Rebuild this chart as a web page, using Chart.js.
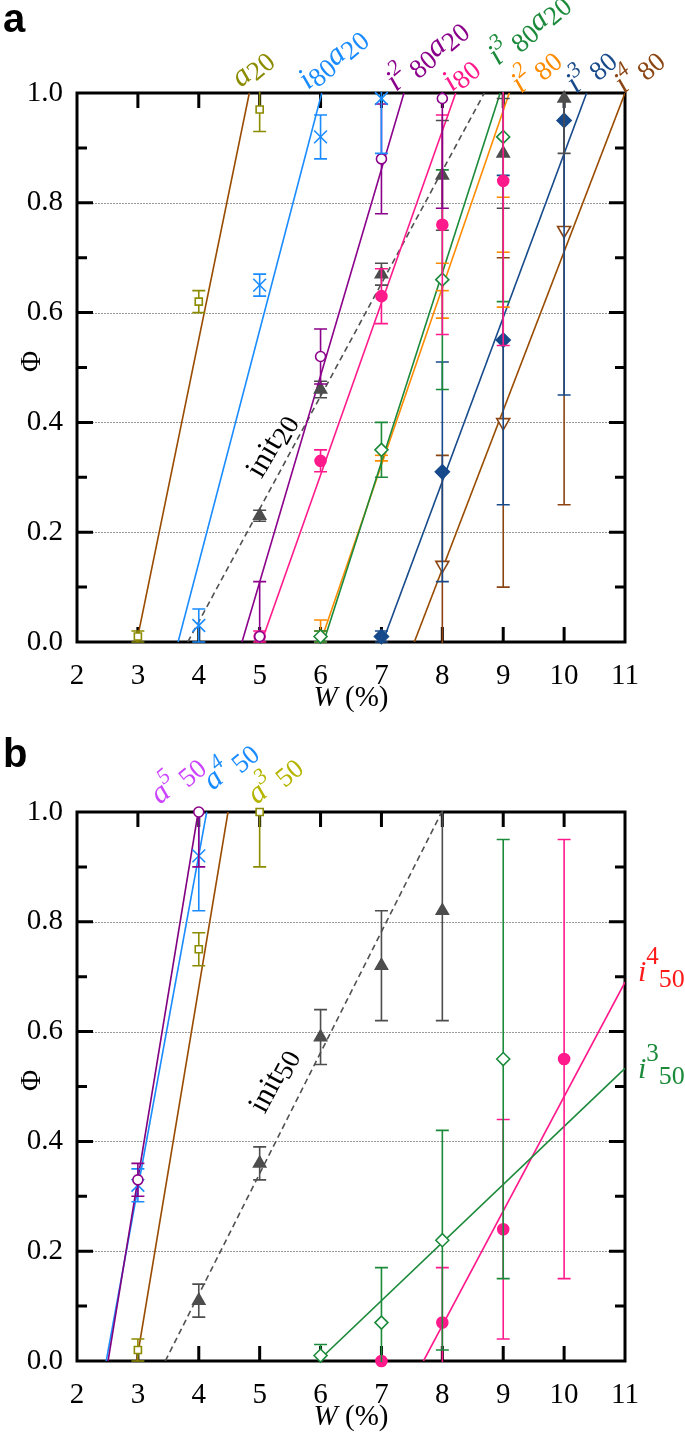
<!DOCTYPE html>
<html>
<head>
<meta charset="utf-8">
<script src="https://cdn.jsdelivr.net/npm/chart.js@4.4.0/dist/chart.umd.min.js"></script>
<style>
  html, body { margin: 0; padding: 0; background: #fff; }
  .panel { position: absolute; left: 0; }
</style>
</head>
<body>
<div class="panel" style="top:0"><canvas id="chartA" width="685" height="725"></canvas></div>
<div class="panel" style="top:725px"><canvas id="chartB" width="685" height="726"></canvas></div>
<script>
  /* ==========================
     DATA  (W in %, Phi, +/- error, fit line end points)
  ========================== */
  const wTicks = [2, 3, 4, 5, 6, 7, 8, 9, 10, 11];
  const phiTicks = [0, 0.2, 0.4, 0.6, 0.8, 1.0];

  // panel a
  const a20W = [3, 4, 5];
  const a20Phi = [0.01, 0.62, 0.97];
  const a20Err = [0.01, 0.02, 0.04];
  const a20Fit = [[2.98, 0], [4.83, 1]];

  const i80a20W = [4, 5, 6, 7];
  const i80a20Phi = [0.03, 0.65, 0.92, 0.99];
  const i80a20Err = [0.03, 0.02, 0.04, 0.10];
  const i80a20Fit = [[3.66, 0], [6.02, 1]];

  const i2_80a20W = [5, 6, 7, 8];
  const i2_80a20Phi = [0.01, 0.52, 0.88, 0.99];
  const i2_80a20Err = [0.10, 0.05, 0.10, 0.20];
  const i2_80a20Fit = [[4.71, 0], [7.37, 1]];

  const i80W = [5, 6, 7, 8, 9];
  const i80Phi = [0.01, 0.33, 0.63, 0.76, 0.84];
  const i80Err = [0.01, 0.02, 0.05, 0.20, 0.30];
  const i80Fit = [[5.03, 0], [8.22, 1]];

  const init20W = [5, 6, 7, 8, 9, 10];
  const init20Phi = [0.23, 0.46, 0.67, 0.85, 0.89, 0.99];
  const init20Err = [0.01, 0.015, 0.02, 0.10, 0.10, 0.10];
  const init20Fit = [[3.82, 0], [8.69, 1]];

  const i3_80a20W = [6, 7, 8, 9];
  const i3_80a20Phi = [0.01, 0.35, 0.66, 0.92];
  const i3_80a20Err = [0.01, 0.05, 0.20, 0.30];
  const i3_80a20Fit = [[6.05, 0], [8.95, 1]];

  const i2_80W = [6, 7, 8, 9];
  const i2_80Phi = [0.02, 0.34, 0.64, 0.71];
  const i2_80Err = [0.02, 0.01, 0.05, 0.10];
  const i2_80Fit = [[6.0, 0], [9.1, 1]];

  const i3_80W = [7, 8, 9, 10];
  const i3_80Phi = [0.01, 0.31, 0.55, 0.95];
  const i3_80Err = [0.01, 0.20, 0.30, 0.50];
  const i3_80Fit = [[7.02, 0], [10.37, 1]];

  const i4_80W = [8, 9, 10];
  const i4_80Phi = [0.14, 0.40, 0.75];
  const i4_80Err = [0.20, 0.30, 0.50];
  const i4_80Fit = [[7.54, 0], [11, 1]];

  // panel b
  const a5_50W = [3, 4];
  const a5_50Phi = [0.33, 1.0];
  const a5_50Err = [0.03, 0.10];
  const a5_50Fit = [[2.51, 0], [3.99, 1]];

  const a4_50W = [3, 4];
  const a4_50Phi = [0.32, 0.92];
  const a4_50Err = [0.03, 0.10];
  const a4_50Fit = [[2.48, 0], [4.13, 1]];

  const a3_50W = [3, 4, 5];
  const a3_50Phi = [0.02, 0.75, 1.0];
  const a3_50Err = [0.02, 0.03, 0.10];
  const a3_50Fit = [[2.98, 0], [4.48, 1]];

  const init50W = [4, 5, 6, 7, 8];
  const init50Phi = [0.11, 0.36, 0.59, 0.72, 0.82];
  const init50Err = [0.03, 0.03, 0.05, 0.10, 0.20];
  const init50Fit = [[3.45, 0], [7.99, 1]];

  const i3_50W = [6, 7, 8, 9];
  const i3_50Phi = [0.01, 0.07, 0.22, 0.55];
  const i3_50Err = [0.02, 0.10, 0.20, 0.40];
  const i3_50Fit = [[5.96, 0], [11, 0.533]];

  const i4_50W = [7, 8, 9, 10];
  const i4_50Phi = [0.0, 0.07, 0.24, 0.55];
  const i4_50Err = [0, 0.10, 0.20, 0.40];
  const i4_50Fit = [[7.69, 0], [11, 0.69]];

  /* ==========================
     STYLES
  ========================== */
  const OLIVE = "#8c8c00", BROWN = "#994c00", BLUE = "#1a8cff", PURPLE = "#8b008b",
        PINK = "#ff1a8c", GRAY = "#4d4d4d", GREEN = "#1b8a3a", ORANGE = "#ff8c00",
        NAVY = "#174a8b", TRI_BROWN = "#8b4513";

  const seriesA = [
    { W: a20W, phi: a20Phi, err: a20Err, fit: a20Fit, color: OLIVE, line: BROWN, style: "rect", r: 5, open: true },
    { W: i80a20W, phi: i80a20Phi, err: i80a20Err, fit: i80a20Fit, color: BLUE, line: BLUE, style: "crossRot", r: 9 },
    { W: i2_80a20W, phi: i2_80a20Phi, err: i2_80a20Err, fit: i2_80a20Fit, color: PURPLE, line: PURPLE, style: "circle", r: 5, open: true },
    { W: i80W, phi: i80Phi, err: i80Err, fit: i80Fit, color: PINK, line: PINK, style: "circle", r: 5.5 },
    { W: init20W, phi: init20Phi, err: init20Err, fit: init20Fit, color: GRAY, line: "#505050", style: "triangle", r: 7, dash: [6, 4] },
    { W: i3_80a20W, phi: i3_80a20Phi, err: i3_80a20Err, fit: i3_80a20Fit, color: GREEN, line: GREEN, style: "rectRot", r: 6.5, open: true },
    { W: i2_80W, phi: i2_80Phi, err: i2_80Err, fit: i2_80Fit, color: ORANGE, line: ORANGE, style: "line", r: 6.5 },
    { W: i3_80W, phi: i3_80Phi, err: i3_80Err, fit: i3_80Fit, color: NAVY, line: NAVY, style: "rectRot", r: 7 },
    { W: i4_80W, phi: i4_80Phi, err: i4_80Err, fit: i4_80Fit, color: TRI_BROWN, line: BROWN, style: "triangle", r: 7.5, open: true, rot: 180 },
  ];

  const seriesB = [
    { W: a5_50W, phi: a5_50Phi, err: a5_50Err, fit: a5_50Fit, color: PURPLE, line: "#800080", style: "circle", r: 5, open: true },
    { W: a4_50W, phi: a4_50Phi, err: a4_50Err, fit: a4_50Fit, color: BLUE, line: BLUE, style: "crossRot", r: 9 },
    { W: a3_50W, phi: a3_50Phi, err: a3_50Err, fit: a3_50Fit, color: OLIVE, line: BROWN, style: "rect", r: 5, open: true },
    { W: init50W, phi: init50Phi, err: init50Err, fit: init50Fit, color: GRAY, line: "#505050", style: "triangle", r: 7, dash: [6, 4] },
    { W: i3_50W, phi: i3_50Phi, err: i3_50Err, fit: i3_50Fit, color: GREEN, line: GREEN, style: "rectRot", r: 6.5, open: true },
    { W: i4_50W, phi: i4_50Phi, err: i4_50Err, fit: i4_50Fit, color: PINK, line: PINK, style: "circle", r: 5.5 },
  ];

  // rich label pieces
  const IT = (t) => ({ t, it: true, size: 31 });
  const UP = (t) => ({ t, size: 31 });
  const SUP = (t) => ({ t, it: true, size: 22, dy: -13 });
  const SUB = (t) => ({ t, size: 27, dy: 5 });
  const GAP = { t: "\u2009", size: 27 };

  const labelsA = [
    { x: 241, y: 88, deg: -40, color: OLIVE, parts: [IT("a"), SUB("20")] },
    { x: 308, y: 90, deg: -40, color: BLUE, parts: [IT("i"), SUB("80"), IT("a"), SUB("20")] },
    { x: 396, y: 92, deg: -40, color: PURPLE, parts: [IT("i"), SUP("2"), GAP, SUB("80"), IT("a"), SUB("20")] },
    { x: 452, y: 92, deg: -40, color: PINK, parts: [IT("i"), SUB("80")] },
    { x: 498, y: 66, deg: -40, color: GREEN, parts: [IT("i"), SUP("3"), GAP, SUB("80"), IT("a"), SUB("20")] },
    { x: 521, y: 94, deg: -40, color: ORANGE, parts: [IT("i"), SUP("2"), GAP, SUB("80")] },
    { x: 576, y: 94, deg: -40, color: NAVY, parts: [IT("i"), SUP("3"), GAP, SUB("80")] },
    { x: 624, y: 94, deg: -40, color: TRI_BROWN, parts: [IT("i"), SUP("4"), GAP, SUB("80")] },
    { x: 270, y: 445, deg: -60, color: "#000", center: true, parts: [UP("init"), SUB("20")] },
  ];

  const labelsB = [
    { x: 160, y: 80, deg: -40, color: "#cc44ff", parts: [IT("a"), SUP("5"), GAP, SUB("50")] },
    { x: 213, y: 66, deg: -40, color: BLUE, parts: [IT("a"), SUP("4"), GAP, SUB("50")] },
    { x: 257, y: 80, deg: -40, color: "#b5b500", parts: [IT("a"), SUP("3"), GAP, SUB("50")] },
    { x: 272, y: 355, deg: -62, color: "#000", center: true, parts: [UP("init"), SUB("50")] },
    { x: 638, y: 256, deg: 0, color: "#ff1a1a", parts: [{ t: "i", it: true, size: 30 }, { t: "4", size: 25, dy: -17 }, { t: "50", size: 26, dy: 6 }] },
    { x: 638, y: 353, deg: 0, color: GREEN, parts: [{ t: "i", it: true, size: 30 }, { t: "3", size: 25, dy: -17 }, { t: "50", size: 26, dy: 6 }] },
  ];

  /* ==========================
     HELPERS
  ========================== */
  const SERIF = "'Liberation Serif', 'Times New Roman', serif";

  function fontOf(p) {
    return (p.it ? "italic " : "") + p.size + "px " + SERIF;
  }

  function drawRich(ctx, lab) {
    ctx.save();
    ctx.translate(lab.x, lab.y);
    ctx.rotate((lab.deg * Math.PI) / 180);
    ctx.fillStyle = lab.color;
    ctx.textBaseline = "alphabetic";
    ctx.textAlign = "left";
    let w = 0;
    lab.parts.forEach((p) => { ctx.font = fontOf(p); w += ctx.measureText(p.t).width; });
    let cx = lab.center ? -w / 2 : 0;
    const by = lab.center ? 10 : 0;
    lab.parts.forEach((p) => {
      ctx.font = fontOf(p);
      ctx.fillText(p.t, cx, by + (p.dy || 0));
      cx += ctx.measureText(p.t).width;
    });
    ctx.restore();
  }

  const errorBars = {
    id: "errorBars",
    beforeDatasetDraw(chart, args) {
      const ds = chart.data.datasets[args.index];
      if (!ds.errors) return;
      const { ctx, chartArea: a, scales: { x, y } } = chart;
      ctx.save();
      ctx.beginPath();
      ctx.rect(a.left, a.top - 1, a.right - a.left, a.bottom - a.top + 2);
      ctx.clip();
      ctx.strokeStyle = ds.borderColor;
      ctx.lineWidth = 1.6;
      ds.data.forEach((p, i) => {
        const e = ds.errors[i];
        if (!e) return;
        const px = x.getPixelForValue(p.x);
        const top = y.getPixelForValue(p.y + e);
        const bot = y.getPixelForValue(p.y - e);
        ctx.beginPath();
        ctx.moveTo(px, top); ctx.lineTo(px, bot);
        ctx.moveTo(px - 6.5, top); ctx.lineTo(px + 6.5, top);
        ctx.moveTo(px - 6.5, bot); ctx.lineTo(px + 6.5, bot);
        ctx.stroke();
      });
      ctx.restore();
    },
  };

  const frame = {
    id: "frame",
    beforeDatasetsDraw(chart) {
      const { ctx, chartArea: a, scales: { x, y } } = chart;
      ctx.save();
      // dotted grid
      ctx.strokeStyle = "#9a9a9a";
      ctx.lineWidth = 1;
      ctx.setLineDash([2, 1]);
      ctx.beginPath();
      phiTicks.slice(1, -1).forEach((v) => {
        const py = Math.round(y.getPixelForValue(v)) + 0.5;
        ctx.moveTo(a.left, py); ctx.lineTo(a.right, py);
      });
      ctx.stroke();
      ctx.setLineDash([]);
      // box and inward ticks
      ctx.strokeStyle = "#000";
      ctx.lineWidth = 3;
      ctx.strokeRect(a.left, a.top, a.right - a.left, a.bottom - a.top);
      ctx.beginPath();
      wTicks.slice(1, -1).forEach((w) => {
        const px = x.getPixelForValue(w);
        ctx.moveTo(px, a.bottom); ctx.lineTo(px, a.bottom - 15);
        ctx.moveTo(px, a.top); ctx.lineTo(px, a.top + 15);
      });
      for (let k = 1; k < 10; k++) {
        const py = y.getPixelForValue(k / 10);
        const len = k % 2 === 0 ? 16 : 10;
        ctx.moveTo(a.left, py); ctx.lineTo(a.left + len, py);
        ctx.moveTo(a.right, py); ctx.lineTo(a.right - len, py);
      }
      ctx.stroke();
      ctx.restore();
    },
    afterDraw(chart) {
      const { ctx, chartArea: a } = chart;
      const o = chart.options.plugins.frame;
      ctx.save();
      // axis titles
      ctx.fillStyle = "#000";
      ctx.textAlign = "center";
      ctx.textBaseline = "middle";
      ctx.font = "29px " + SERIF;
      ctx.translate(32, (a.top + a.bottom) / 2 - 6);
      ctx.rotate(-Math.PI / 2);
      ctx.fillText("\u03A6", 0, 0);
      ctx.restore();

      ctx.save();
      ctx.fillStyle = "#000";
      ctx.textBaseline = "alphabetic";
      ctx.textAlign = "left";
      ctx.font = "italic 29px " + SERIF;
      const wW = ctx.measureText("W").width;
      ctx.font = "29px " + SERIF;
      const wR = ctx.measureText(" (%)").width;
      const sx = (a.left + a.right) / 2 - (wW + wR) / 2;
      const by = a.bottom + 64;
      ctx.font = "italic 29px " + SERIF;
      ctx.fillText("W", sx, by);
      ctx.font = "29px " + SERIF;
      ctx.fillText(" (%)", sx + wW, by);

      // panel letter
      ctx.font = "bold 40px 'Liberation Sans', Arial, sans-serif";
      ctx.fillText(o.letter, 3, o.letterY);
      ctx.restore();

      o.labels.forEach((lab) => drawRich(ctx, lab));
    },
  };

  /* ==========================
     CHARTS
  ========================== */
  function buildDatasets(series) {
    const marks = series.map((s) => ({
      data: s.W.map((w, i) => ({ x: w, y: s.phi[i] })),
      errors: s.err,
      showLine: false,
      pointStyle: s.style,
      pointRadius: s.r,
      pointRotation: s.rot || 0,
      borderColor: s.color,
      pointBorderColor: s.color,
      pointBackgroundColor: s.open ? "#fff" : s.color,
      pointBorderWidth: 1.6,
      clip: false,
    }));
    const fits = series.map((s) => ({
      data: s.fit.map((p) => ({ x: p[0], y: p[1] })),
      showLine: true,
      pointRadius: 0,
      borderColor: s.line,
      borderWidth: 1.6,
      borderDash: s.dash || [],
    }));
    return marks.concat(fits);
  }

  function createPanel(canvas, series, labels, letter, letterY, chartTop) {
    const H = canvas.height;
    const chartBottom = chartTop + 549;
    return new Chart(canvas.getContext("2d"), {
      type: "scatter",
      data: { datasets: buildDatasets(series) },
      options: {
        responsive: false,
        animation: false,
        layout: { padding: { top: chartTop, right: 60, left: 0, bottom: 0 } },
        scales: {
          x: {
            type: "linear",
            min: 2,
            max: 11,
            grid: { display: false, drawTicks: false },
            border: { display: false },
            afterFit(s) { s.height = H - chartBottom; },
            afterBuildTicks(s) { s.ticks = wTicks.map((v) => ({ value: v })); },
            ticks: {
              color: "#000",
              padding: 17,
              maxRotation: 0,
              autoSkip: false,
              font: { family: SERIF, size: 29 },
            },
          },
          y: {
            type: "linear",
            min: 0,
            max: 1,
            grid: { display: false, drawTicks: false },
            border: { display: false },
            afterFit(s) { s.width = 77; },
            afterBuildTicks(s) { s.ticks = phiTicks.map((v) => ({ value: v })); },
            ticks: {
              color: "#000",
              padding: 14,
              font: { family: SERIF, size: 29 },
              callback: (v) => Number(v).toFixed(1),
            },
          },
        },
        plugins: {
          legend: { display: false },
          tooltip: { enabled: false },
          frame: { labels, letter, letterY },
        },
      },
      plugins: [frame, errorBars],
    });
  }

  try {
    if (window.Chart) {
      createPanel(document.getElementById("chartA"), seriesA, labelsA, "a", 32, 93);
      createPanel(document.getElementById("chartB"), seriesB, labelsB, "b", 42, 87);
    }
  } catch (e) {
    console.warn("Chart init failed", e);
  }
</script>
</body>
</html>
